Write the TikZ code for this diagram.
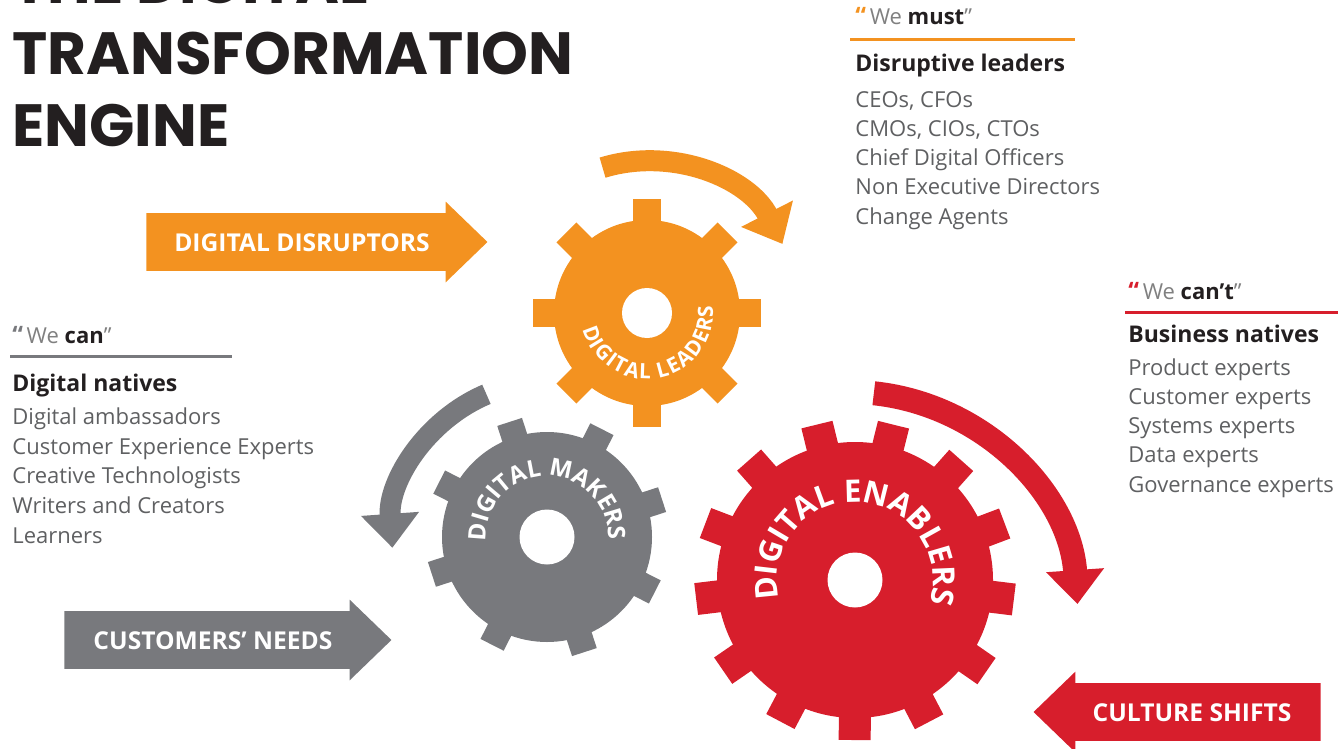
\documentclass[tikz,border=0pt]{standalone}
\usepackage{fontspec}
\setmainfont{Open Sans}
\newfontfamily\titlefont{Poppins}
\usepackage{tikz}
\usetikzlibrary{shapes.arrows,arrows.meta,decorations.text,positioning,calc}

\definecolor{dtorange}{RGB}{243,146,32}
\definecolor{dtgray}{RGB}{120,121,125}
\definecolor{dtred}{RGB}{215,30,44}
\definecolor{dttext}{RGB}{95,96,98}
\definecolor{dthead}{RGB}{35,31,32}

\tikzset{
  title/.style={anchor=base west, inner sep=0pt, text=dthead,
    font=\titlefont\bfseries\fontsize{29.8}{31}\selectfont},
  quote/.style={anchor=base west, inner sep=0pt, text=gray,
    font=\fontsize{11}{13}\selectfont},
  heading/.style={anchor=base west, inner sep=0pt, text=dthead,
    font=\bfseries\fontsize{11.5}{13}\selectfont},
  item/.style={anchor=base west, inner sep=0pt, text=dttext,
    font=\fontsize{11}{13}\selectfont},
  rule/.style={draw=#1, line width=1.5pt},
  blockarrow/.style={single arrow, anchor=tip, fill=#1, text=white,
    font=\bfseries\fontsize{12.3}{14}\selectfont,
    inner xsep=3pt, inner ysep=9.75pt, text height=9pt, text depth=0pt,
    single arrow head extend=5.75pt, single arrow tip angle=88},
  turn/.style={draw=#1, line width=10.5pt, -{Triangle[length=17pt,width=28pt]}},
  geartext/.style={decorate, decoration={text along path,
    text align=fit to path, text color=white, text={#1}}}
}

\begin{document}
\begin{tikzpicture}[x=0.5pt,y=0.5pt]
\useasboundingbox (0,0) rectangle (1338,-749);

% Title (first line runs off the top edge)
\node[title] (title1) at (12,-4) {THE DIGITAL};
\node[title] (title2) at (12,-75) {TRANSFORMATION};
\node[title] (title3) at (12,-147) {ENGINE};

% Gear centres
\coordinate (leaders) at (647,-313);
\coordinate (makers) at (547,-537);
\coordinate (enablers) at (855,-580);
\coordinate (enablersturn) at (850,-620);

% Digital makers gear
\fill[dtgray] (makers) circle (105);
\foreach \a in {18,63,...,333}
  \fill[dtgray, shift={(makers)}, rotate=\a] (95,-13) rectangle (121,13);
\fill[white] (makers) circle (27.5);
\path[geartext={|\bfseries\fontsize{12}{14}\selectfont|DIGITAL MAKERS}]
  ([shift={(184:61)}]makers) arc[start angle=184, end angle=-3, radius=61];

% Digital enablers gear
\fill[dtred] (enablers) circle (138);
\foreach \i in {0,...,12}
  \fill[dtred, shift={(enablers)}, rotate=-7+27.69*\i] (125,-16) rectangle (160,16);
\fill[white] (enablers) circle (27.5);
\path[geartext={|\bfseries\fontsize{15.5}{17}\selectfont|DIGITAL ENABLERS}]
  ([shift={(194:78)}]enablers) arc[start angle=194, end angle=-15, radius=78];

% Digital leaders gear
\fill[dtorange] (leaders) circle (93);
\foreach \a in {0,45,...,315}
  \fill[dtorange, shift={(leaders)}, rotate=\a] (85,-14) rectangle (114,14);
\fill[white] (leaders) circle (25);
\path[geartext={|\bfseries\fontsize{10.5}{12}\selectfont|DIGITAL LEADERS}]
  ([shift={(194:66)}]leaders) arc[start angle=194, end angle=366, radius=66];

% Turning arrows
\draw[turn=dtorange] ([shift={(107:152)}]leaders) arc[start angle=107, end angle=27, radius=152];
\draw[turn=dtgray] ([shift={(113:155)}]makers) arc[start angle=113, end angle=184, radius=155];
\draw[turn=dtred, line width=12pt] ([shift={(84:228)}]enablersturn) arc[start angle=84, end angle=4, radius=228];

% Input arrows
\node[blockarrow=dtorange, minimum height=170.5pt] (disruptors) at (488,-242) {DIGITAL DISRUPTORS};
\node[blockarrow=dtgray, minimum height=163.5pt] (needs) at (392,-640) {CUSTOMERS' NEEDS};
\node[blockarrow=dtred, minimum height=143.5pt, shape border rotate=180] (culture) at (1033,-712) {CULTURE SHIFTS};

% We must
\node[quote] (mustq) at (855,-25) {\textcolor{dtorange}{\bfseries\large “}\,We \textcolor{dthead}{\bfseries must}”};
\draw[rule=dtorange] (850,-40) -- (1075,-40);
\node[heading] (musth) at (855,-72) {Disruptive leaders};
\foreach \t [count=\i] in {{CEOs, CFOs},{CMOs, CIOs, CTOs},{Chief Digital Officers},{Non Executive Directors},{Change Agents}}
  \node[item] (must\i) at (855,-78-29.2*\i) {\t};

% We can
\node[quote] (canq) at (12,-343) {\textcolor{dtgray}{\bfseries\large “}\,We \textcolor{dthead}{\bfseries can}”};
\draw[rule=dtgray] (10,-356) -- (232,-356);
\node[heading] (canh) at (12,-391) {Digital natives};
\foreach \t [count=\i] in {{Digital ambassadors},{Customer Experience Experts},{Creative Technologists},{Writers and Creators},{Learners}}
  \node[item] (can\i) at (12,-395-29.6*\i) {\t};

% We can't
\node[quote] (cantq) at (1128,-299) {\textcolor{dtred}{\bfseries\large “}\,We \textcolor{dthead}{\bfseries can’t}”};
\draw[rule=dtred] (1125,-312) -- (1338,-312);
\node[heading] (canth) at (1128,-342) {Business natives};
\foreach \t [count=\i] in {{Product experts},{Customer experts},{Systems experts},{Data experts},{Governance experts}}
  \node[item] (cant\i) at (1128,-345.7-29.3*\i) {\t};

\end{tikzpicture}
\end{document}
